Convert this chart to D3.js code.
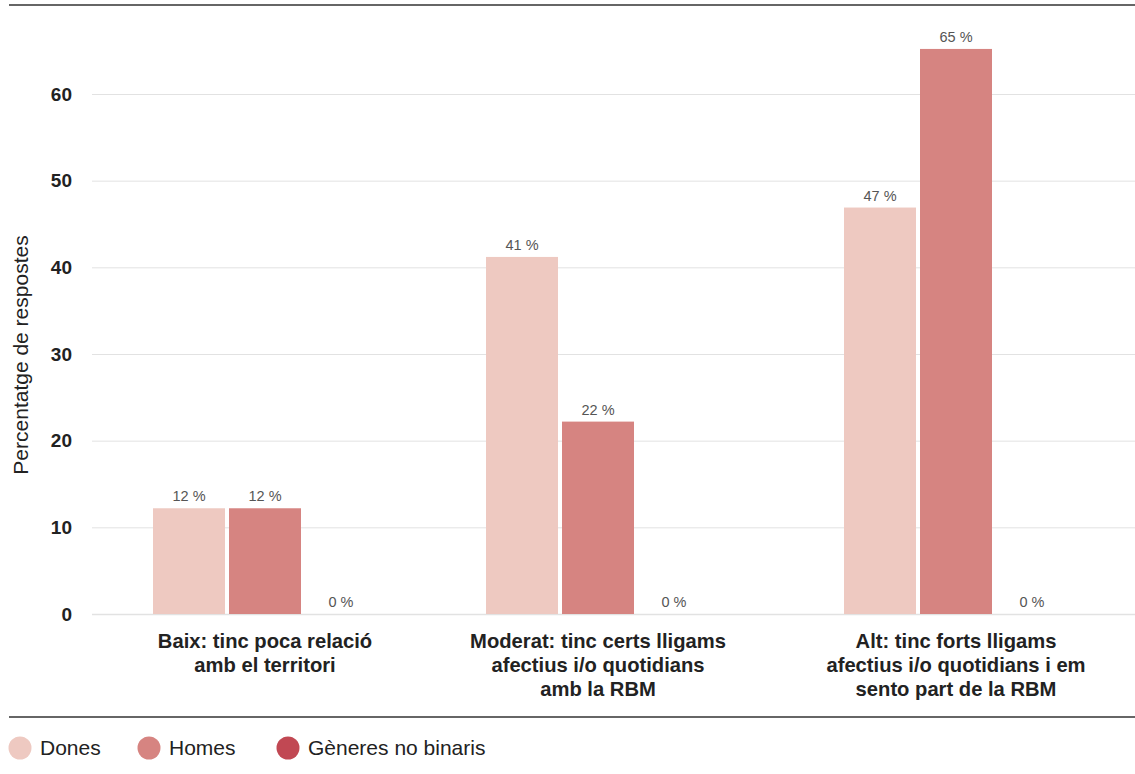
<!DOCTYPE html>
<html><head><meta charset="utf-8">
<script src="https://cdn.jsdelivr.net/npm/d3@7"></script>
<style>
html,body{margin:0;padding:0;background:#fff;}
svg{display:block;font-family:"Liberation Sans",Arial,sans-serif;}
</style></head>
<body>
<svg id="chart" width="1135" height="774"></svg>
<script>
const categories = [
  ["Baix: tinc poca relació", "amb el territori"],
  ["Moderat: tinc certs lligams", "afectius i/o quotidians", "amb la RBM"],
  ["Alt: tinc forts lligams", "afectius i/o quotidians i em", "sento part de la RBM"]
];
const seriesNames = ["Dones", "Homes", "Gèneres no binaris"];
const dones = [12.2, 41.2, 46.9];
const homes = [12.2, 22.2, 65.2];
const noBinaris = [0, 0, 0];
const doneLabels = ["12 %", "41 %", "47 %"];
const homeLabels = ["12 %", "22 %", "65 %"];
const noBinLabels = ["0 %", "0 %", "0 %"];
const yTicks = [0, 10, 20, 30, 40, 50, 60];
const colors = ["#eec9c1", "#d68481", "#c14853"];

const series = [
  {name: seriesNames[0], values: dones, labels: doneLabels},
  {name: seriesNames[1], values: homes, labels: homeLabels},
  {name: seriesNames[2], values: noBinaris, labels: noBinLabels}
];

const svg = d3.select("#chart");
const catKeys = categories.map(c => c.join(" "));

const y = d3.scaleLinear().domain([0, 60]).range([614, 94]);
const xGroup = d3.scaleOrdinal().domain(catKeys).range([265, 598, 956]);
const xInner = d3.scaleBand().domain(seriesNames).range([-112, 112]).paddingInner(4/76).paddingOuter(0);
const color = d3.scaleOrdinal().domain(seriesNames).range(colors);

// top & bottom rules
svg.append("line").attr("x1", 9).attr("x2", 1135).attr("y1", 5).attr("y2", 5)
  .attr("stroke", "#333").attr("stroke-width", 1.5);
svg.append("line").attr("x1", 9).attr("x2", 1135).attr("y1", 717).attr("y2", 717)
  .attr("stroke", "#333").attr("stroke-width", 1.5);

// grid
const yAxis = d3.axisLeft(y).tickValues(yTicks).tickSize(-(1135 - 92)).tickPadding(20);
const gy = svg.append("g").attr("transform", "translate(92,0)").call(yAxis);
gy.select(".domain").remove();
gy.selectAll(".tick line").attr("stroke", "#e2e2e2").attr("stroke-width", 1);
gy.selectAll(".tick text").attr("font-size", 19).attr("font-weight", "bold")
  .attr("fill", "#222").attr("font-family", "'Liberation Sans',Arial,sans-serif");
gy.selectAll(".tick").filter(d => d === 0).select("line").attr("stroke-width", 1.5);

// y title
svg.append("text").attr("transform", "translate(28,355) rotate(-90)")
  .attr("text-anchor", "middle").attr("font-size", 21).attr("fill", "#222")
  .text("Percentatge de respostes");

// bars
const groups = svg.append("g").selectAll("g").data(catKeys).join("g")
  .attr("transform", d => `translate(${xGroup(d)},0)`);
series.forEach((s) => {
  groups.append("rect")
    .attr("x", xInner(s.name))
    .attr("width", xInner.bandwidth())
    .attr("y", (d, i) => y(s.values[i]))
    .attr("height", (d, i) => y(0) - y(s.values[i]))
    .attr("fill", color(s.name));
  groups.append("text")
    .attr("x", xInner(s.name) + xInner.bandwidth() / 2)
    .attr("y", (d, i) => y(s.values[i]) - 7)
    .attr("text-anchor", "middle").attr("font-size", 14.5).attr("fill", "#555")
    .text((d, i) => s.labels[i]);
});

// category labels
groups.each(function(d, i) {
  const t = d3.select(this).append("text").attr("text-anchor", "middle")
    .attr("font-size", 20.2).attr("font-weight", "bold").attr("fill", "#222");
  categories[i].forEach((line, j) => {
    t.append("tspan").attr("x", 0).attr("y", 648 + j * 24).text(line);
  });
});

// legend
const legendX = [20, 149, 288];
const lg = svg.append("g").selectAll("g").data(seriesNames).join("g")
  .attr("transform", (d, i) => `translate(${legendX[i]},748)`);
lg.append("circle").attr("r", 11.5).attr("fill", d => color(d));
lg.append("text").attr("x", 20).attr("dy", "0.35em").attr("font-size", 21)
  .attr("fill", "#222").text(d => d);
</script>
</body></html>
